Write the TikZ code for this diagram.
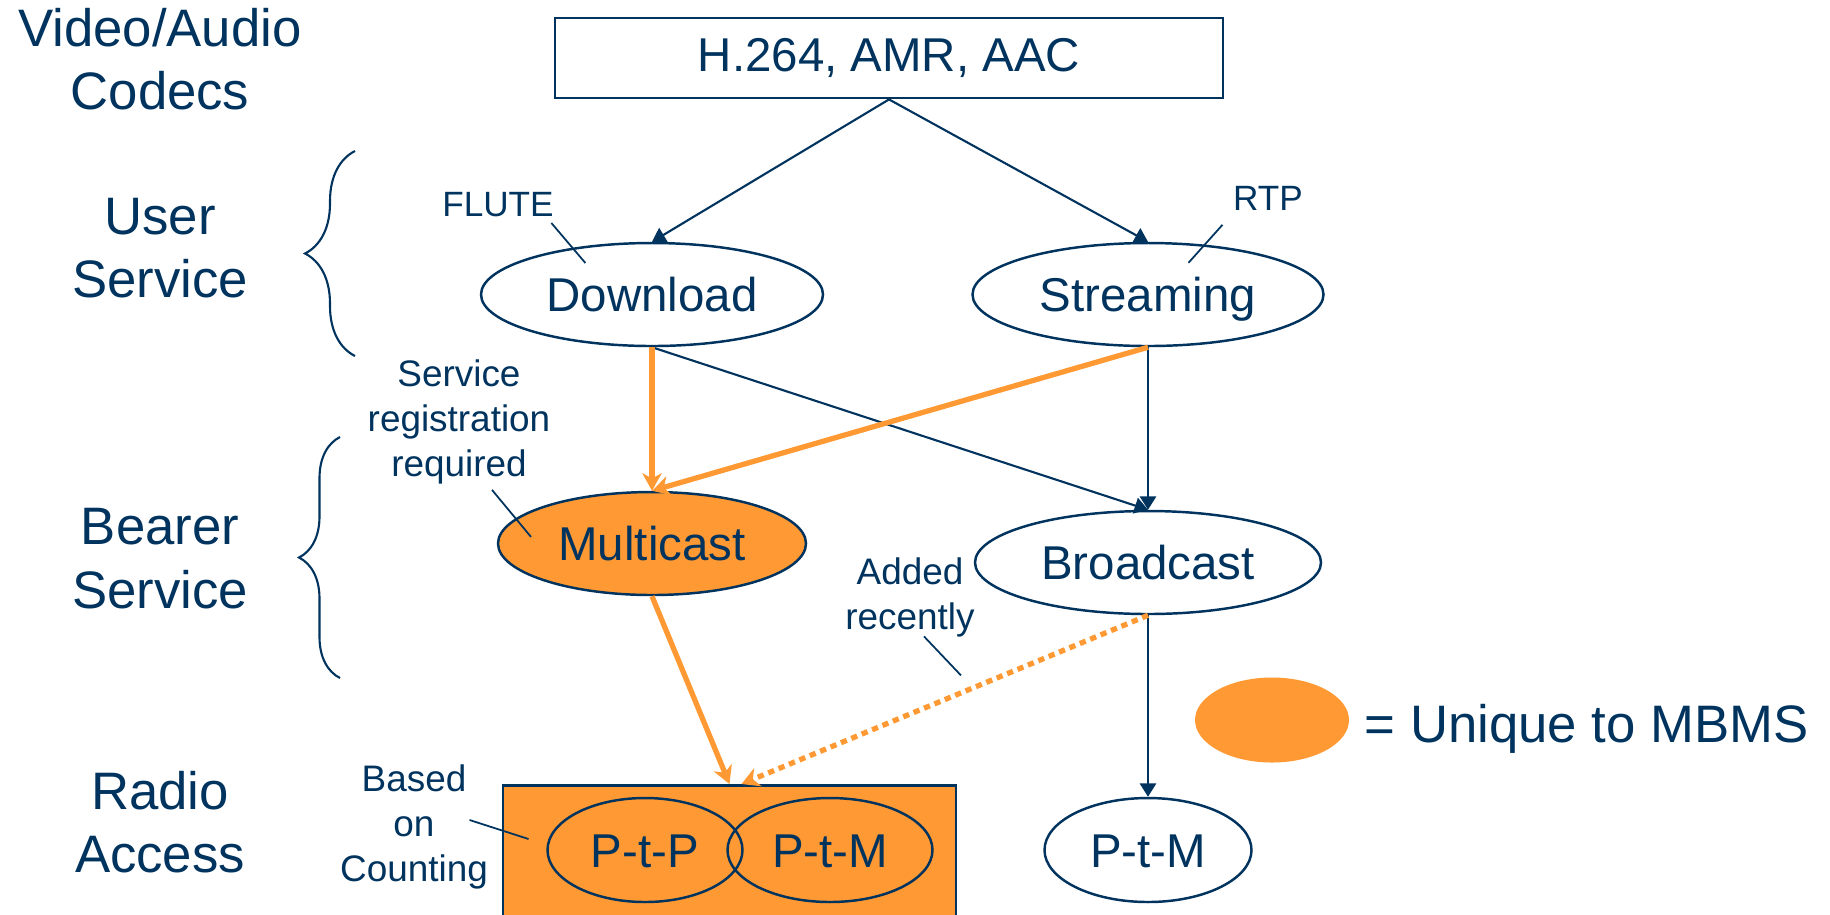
\documentclass[tikz,border=0pt]{standalone}
\usepackage{fontspec}
\setmainfont{Liberation Sans}
\usepackage{xcolor}
\usetikzlibrary{arrows.meta, decorations.pathreplacing, shapes.geometric}
\definecolor{navy}{RGB}{0,51,94}
\definecolor{mbms}{RGB}{255,153,51}

\begin{document}
\begin{tikzpicture}[
    every node/.style={text=navy, inner sep=0pt},
    layer/.style={font=\fontsize{15}{18}\selectfont, align=center},
    note/.style={font=\fontsize{10.5}{12.8}\selectfont, align=center},
    svc/.style={ellipse, draw=navy, line width=0.7pt, font=\fontsize{13.5}{16}\selectfont,
      text height=9.7pt, text depth=0pt, minimum height=1.03cm},
    link/.style={draw=navy, line width=0.6pt, -{Triangle[length=3.8pt, width=4.6pt]}},
    mlink/.style={draw=mbms, line width=1.5pt, -{Stealth[length=5pt, width=5.5pt, inset=1.5pt]}},
    pointer/.style={draw=navy, line width=0.5pt},
    layerbrace/.style={draw=navy, line width=0.6pt, decorate}
  ]
  \useasboundingbox (0,0) rectangle (18.30,-9.14);

  % layer names and braces
  \node[layer] (codecslbl) at (1.60,-0.59) {Video/Audio\\Codecs};
  \node[layer] (userlbl) at (1.60,-2.48) {User\\Service};
  \node[layer] (bearerlbl) at (1.60,-5.585) {Bearer\\Service};
  \node[layer] (radiolbl) at (1.60,-8.22) {Radio\\Access};
  \draw[layerbrace, decoration={brace, amplitude=0.5cm}] (3.55,-3.56) -- (3.55,-1.51);
  \draw[layerbrace, decoration={brace, amplitude=0.41cm}] (3.40,-6.78) -- (3.40,-4.37);

  % codecs and services
  \node[rectangle, draw=navy, line width=0.8pt, minimum width=6.68cm, minimum height=0.80cm,
    font=\fontsize{13.5}{16}\selectfont] (codecs) at (8.89,-0.58) {H.264, AMR, AAC};
  \node[svc, minimum width=3.42cm] (download) at (6.52,-2.945) {Download};
  \node[svc, minimum width=3.51cm] (streaming) at (11.48,-2.945) {Streaming};
  \node[svc, fill=mbms, minimum width=3.08cm] (multicast) at (6.52,-5.435) {Multicast};
  \node[svc, minimum width=3.46cm] (broadcast) at (11.48,-5.625) {Broadcast};

  % radio access
  \node[rectangle, draw=navy, fill=mbms, line width=0.8pt, minimum width=4.53cm, minimum height=1.45cm,
    anchor=north] (ratbox) at (7.295,-7.84) {};
  \node[svc, minimum width=1.95cm, minimum height=1.04cm] (ptp) at (6.45,-8.50) {P-t-P};
  \node[svc, minimum width=2.05cm, minimum height=1.04cm] (ptm) at (8.30,-8.50) {P-t-M};
  \node[svc, minimum width=2.07cm, minimum height=1.04cm] (bcptm) at (11.48,-8.50) {P-t-M};

  % legend
  \node[ellipse, fill=mbms, minimum width=1.54cm, minimum height=0.85cm] (legend) at (12.72,-7.20) {};
  \node[layer, anchor=base west] (legendtxt) at (13.64,-7.42) {= Unique to MBMS};

  % notes
  \node[note, font=\fontsize{10}{12}\selectfont] (flute) at (4.98,-2.05) {FLUTE};
  \node[note, font=\fontsize{10}{12}\selectfont] (rtp) at (12.68,-1.98) {RTP};
  \node[note] (regnote) at (4.59,-4.22) {Service\\registration\\required};
  \node[note] (addnote) at (9.10,-5.97) {Added\\recently};
  \node[note] (countnote) at (4.14,-8.27) {Based\\on\\Counting};
  \draw[pointer] ([shift={(-0.03,-0.05)}]flute.south east) -- ++(0.34,-0.40);
  \draw[pointer] ([shift={(-0.10,-0.14)}]rtp.south west) -- ++(-0.34,-0.38);
  \draw[pointer] ([shift={(0.33,-0.05)}]regnote.south) -- ++(0.39,-0.47);
  \draw[pointer] ([shift={(0.14,0.01)}]addnote.south) -- ++(0.37,-0.39);
  \draw[pointer] ([shift={(-0.19,0.07)}]countnote.east) -- ++(0.59,-0.19);

  % connectors
  \draw[link] (codecs.south) -- (download.north);
  \draw[link] (codecs.south) -- (streaming.north);
  \draw[link] (download.south) -- (broadcast.north);
  \draw[link] (streaming.south) -- (broadcast.north);
  \draw[link] (broadcast.south) -- (bcptm.north);
  \draw[mlink] (download.south) -- (multicast.north);
  \draw[mlink] (streaming.south) -- (multicast.north);
  \draw[mlink] (multicast.south) -- (ratbox.north);
  \draw[mlink, dash pattern=on 1.8pt off 1.4pt] (broadcast.south) -- ([xshift=0.12cm]ratbox.north);
\end{tikzpicture}
\end{document}
